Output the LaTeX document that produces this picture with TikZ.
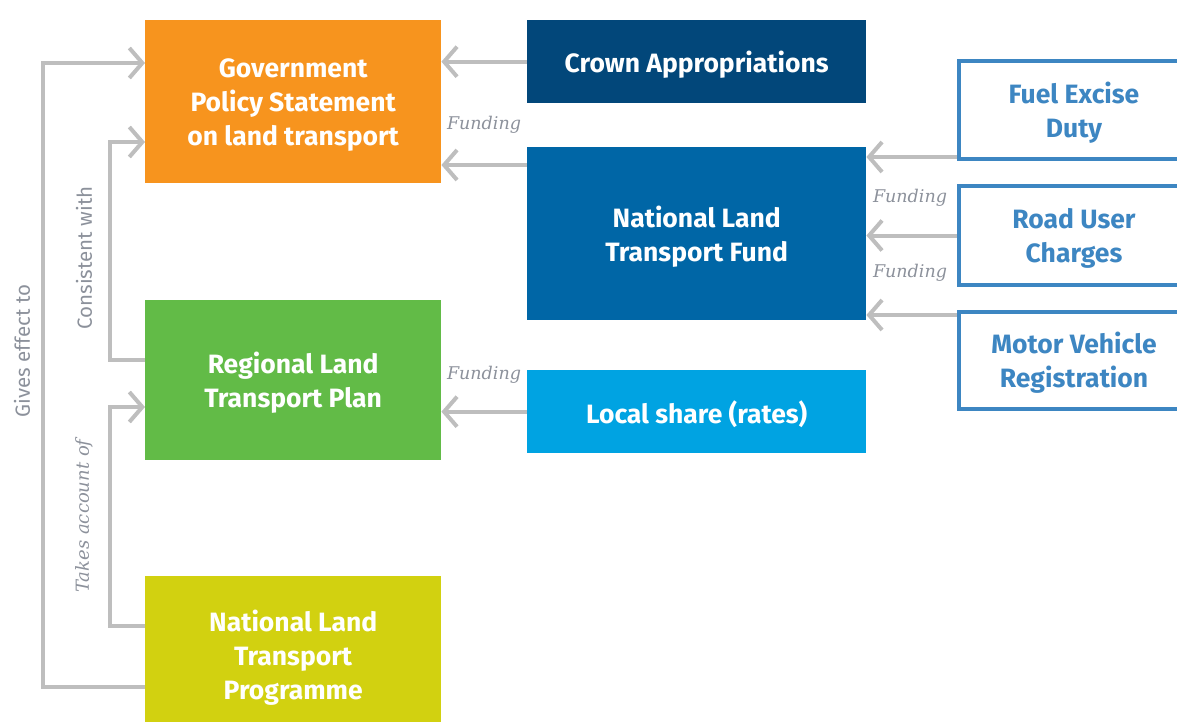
\documentclass[tikz,border=0pt]{standalone}
\usepackage{fontspec}
\setmainfont{Fira Sans}
\newfontfamily\slabit{DejaVu Serif}
\usetikzlibrary{arrows.meta}
\definecolor{cgps}{HTML}{F7941E}
\definecolor{ccrown}{HTML}{02477A}
\definecolor{cnltf}{HTML}{0066A6}
\definecolor{crltp}{HTML}{62BB47}
\definecolor{clocal}{HTML}{00A3E2}
\definecolor{cnltp}{HTML}{D2D110}
\definecolor{cout}{HTML}{3D86C2}
\definecolor{arrgray}{HTML}{BEBEBE}
\definecolor{lblgray}{HTML}{8C919B}
\tikzset{
  fillbox/.style={anchor=north west, inner sep=0pt},
  outbox/.style={anchor=north west, inner sep=0pt, draw=cout, line width=4pt, fill=white},
  boxtext/.style={inner sep=0pt, align=center, text=white,
    font=\fontsize{26.5}{34}\selectfont\bfseries},
  outtext/.style={boxtext, text=cout},
  arr/.style={draw=arrgray, line width=4pt, -{Straight Barb[length=13pt,width=30pt]}},
  fundlbl/.style={text=lblgray, font=\fontsize{17.5}{20}\selectfont\slabit\itshape, inner sep=0pt},
  sidelbl/.style={text=lblgray, rotate=90, inner sep=0pt, font=\fontsize{20.5}{24}\selectfont},
  sidelblit/.style={text=lblgray, rotate=90, inner sep=0pt, font=\fontsize{18}{22}\selectfont\slabit\itshape}
}
\begin{document}
\begin{tikzpicture}[x=1pt,y=-1pt]
\useasboundingbox (0,0) rectangle (1177,722);
\clip (0,0) rectangle (1177,722);
% filled boxes
\node[fillbox, fill=cgps, minimum width=296pt, minimum height=163pt] (gps) at (145,20) {};
\node[fillbox, fill=ccrown, minimum width=339pt, minimum height=83pt] (crown) at (527,20) {};
\node[fillbox, fill=cnltf, minimum width=339pt, minimum height=173pt] (nltf) at (527,147) {};
\node[fillbox, fill=crltp, minimum width=296pt, minimum height=160pt] (rltp) at (145,300) {};
\node[fillbox, fill=clocal, minimum width=339pt, minimum height=83pt] (local) at (527,370) {};
\node[fillbox, fill=cnltp, minimum width=296pt, minimum height=158pt] (nltp) at (145,576) {};
% outlined boxes
\node[outbox, minimum width=230pt, minimum height=98pt] (fuel) at (957,59) {};
\node[outbox, minimum width=230pt, minimum height=99pt] (ruc) at (957,184) {};
\node[outbox, minimum width=230pt, minimum height=97pt] (mvr) at (957,310) {};
% box texts
\node[boxtext] (tgps) at ([yshift=-3.5pt]gps.center) {Government\\Policy Statement\\on land transport};
\node[boxtext] (tcrown) at ([yshift=-2.5pt]crown.center) {Crown Appropriations};
\node[boxtext] (tnltf) at ([yshift=-2.5pt]nltf.center) {National Land\\Transport Fund};
\node[boxtext] (trltp) at ([yshift=-2.5pt]rltp.center) {Regional Land\\Transport Plan};
\node[boxtext] (tlocal) at ([yshift=-2.5pt]local.center) {Local share (rates)};
\node[boxtext] (tnltp) at ([yshift=-2.5pt]nltp.center) {National Land\\Transport\\Programme};
\node[outtext] (tfuel) at ([yshift=-2.5pt]fuel.center) {Fuel Excise\\Duty};
\node[outtext] (truc) at ([yshift=-2.5pt]ruc.center) {Road User\\Charges};
\node[outtext] (tmvr) at ([yshift=-2.5pt]mvr.center) {Motor Vehicle\\Registration};
% funding arrows
\draw[arr] (crown.west) -- (crown.west -| gps.east);
\draw[arr] ([yshift=-18pt]nltf.north west) -- ([yshift=-18pt]nltf.north west -| gps.east);
\draw[arr] ([yshift=4pt]fuel.south west) -- ([yshift=4pt]fuel.south west -| nltf.east);
\draw[arr] (ruc.west) -- (ruc.west -| nltf.east);
\draw[arr] ([yshift=-5pt]mvr.north west) -- ([yshift=-5pt]mvr.north west -| nltf.east);
\draw[arr] (local.west) -- (local.west -| rltp.east);
% left connectors
\draw[arr] ([yshift=-111pt]nltp.north west) -- ++(-102,0) |- ([yshift=-43pt]gps.north west);
\draw[arr] ([yshift=-60pt]rltp.north west) -- ++(-35,0) |- ([yshift=-122pt]gps.north west);
\draw[arr] ([yshift=-50pt]nltp.north west) -- ++(-35,0) |- ([yshift=-107pt]rltp.north west);
% labels
\node[fundlbl] (f1) at (484,125) {Funding};
\node[fundlbl] (f2) at (910,198) {Funding};
\node[fundlbl] (f3) at (910,273) {Funding};
\node[fundlbl] (f4) at (484,375) {Funding};
\node[sidelbl] (l1) at (22,351) {Gives effect to};
\node[sidelbl] (l2) at (84,258) {Consistent with};
\node[sidelblit] (l3) at (84,516) {Takes account of};
\end{tikzpicture}
\end{document}
